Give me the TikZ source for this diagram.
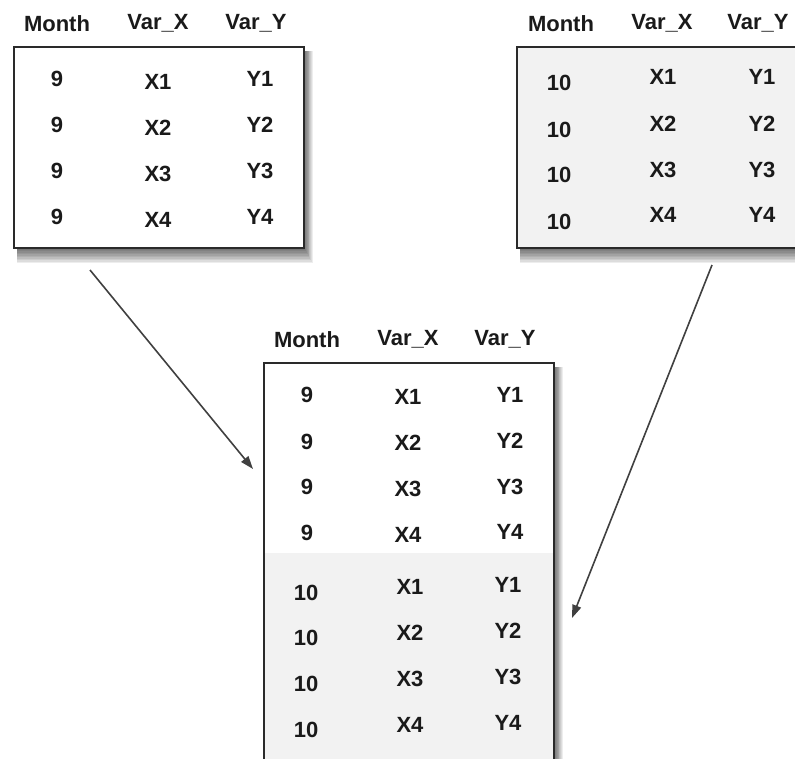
\documentclass[tikz,border=0pt]{standalone}
\usepackage{fontspec}
\setmainfont{Liberation Sans}
\usetikzlibrary{arrows.meta}
\definecolor{txt}{HTML}{1A1A1A}
\definecolor{edge}{HTML}{2A2A2A}
\definecolor{pale}{HTML}{F2F2F2}
\definecolor{arr}{HTML}{404040}
\newcommand\myshadow[4]{%
  \foreach \k in {1,...,10}{%
    \fill[black,opacity=0.07] (#1+3,#2+4) rectangle (#3+0.9*\k,#4+1.5*\k);
  }%
}
\begin{document}
\begin{tikzpicture}[x=1pt,y=-1pt,
  cell/.style={font=\fontsize{22}{26}\selectfont\bfseries,text=txt,inner sep=0pt,anchor=center},
  tablebox/.style={draw=edge,line width=1.9pt,inner sep=0pt},
  link/.style={draw=arr,line width=1.6pt,-{Triangle[length=13pt,width=9pt]}}]
\useasboundingbox (0,0) rectangle (795,758);
\clip (0,0) rectangle (795,758);
\fill[white] (0,0) rectangle (795,758);

% ---------- left table (month 9)
\myshadow{14}{47}{304}{248}
\node[tablebox,fill=white,minimum width=290pt,minimum height=201pt] (L) at (159,147.5) {};
\node[cell] (Lh1) at (57,24) {Month};
\node[cell] (Lh2) at (158,23) {Var\_X};
\node[cell] (Lh3) at (256,23) {Var\_Y};
\foreach \i/\ya/\yb in {1/79/82,2/125/128,3/171/174,4/217/220}{
  \node[cell] (La\i) at (57,\ya) {9};
  \node[cell] (Lb\i) at (158,\yb) {X\i};
  \node[cell] (Lc\i) at (260,\ya) {Y\i};
}

% ---------- right table (month 10)
\myshadow{517}{47}{812}{248}
\node[tablebox,fill=pale,minimum width=295pt,minimum height=201pt] (R) at (664.5,147.5) {};
\node[cell] (Rh1) at (561,24) {Month};
\node[cell] (Rh2) at (662,23) {Var\_X};
\node[cell] (Rh3) at (758,23) {Var\_Y};
\foreach \i/\ya/\yb in {1/83/77,2/129.5/124,3/175/170,4/222/215}{
  \node[cell] (Ra\i) at (559,\ya) {10};
  \node[cell] (Rb\i) at (663,\yb) {X\i};
  \node[cell] (Rc\i) at (762,\yb) {Y\i};
}

% ---------- bottom (combined) table
\myshadow{264}{363}{554}{790}
\node[fill=white,inner sep=0pt,minimum width=290pt,minimum height=427pt] (B) at (409,576.5) {};
\fill[pale] ([xshift=1pt]B.west |- 0,553) rectangle ([xshift=-1pt]B.south east);
\draw[edge,line width=1.9pt] (B.north west) rectangle (B.south east);
\node[cell] (Bh1) at (307,340) {Month};
\node[cell] (Bh2) at (408,339) {Var\_X};
\node[cell] (Bh3) at (505,339) {Var\_Y};
\foreach \i/\ya/\yb/\yc in {1/395/397/394.5,2/441.5/443/441,3/487/489/487,4/533/534.5/532}{
  \node[cell] (Ba\i) at (307,\ya) {9};
  \node[cell] (Bb\i) at (408,\yb) {X\i};
  \node[cell] (Bc\i) at (510,\yc) {Y\i};
}
\foreach \i/\ya/\yb/\yc in {1/592.5/586.5/585,2/638/633/631,3/684/679/677,4/730/725/723}{
  \node[cell] (Bd\i) at (306,\ya) {10};
  \node[cell] (Be\i) at (410,\yb) {X\i};
  \node[cell] (Bf\i) at (508,\yc) {Y\i};
}

% ---------- connectors
\coordinate (Lstart) at (90,270);
\coordinate (Lend) at (253,469);
\coordinate (Rstart) at (712,265);
\coordinate (Rend) at (572,618);
\draw[link] (Lstart) -- (Lend);
\draw[link] (Rstart) -- (Rend);
\end{tikzpicture}
\end{document}
